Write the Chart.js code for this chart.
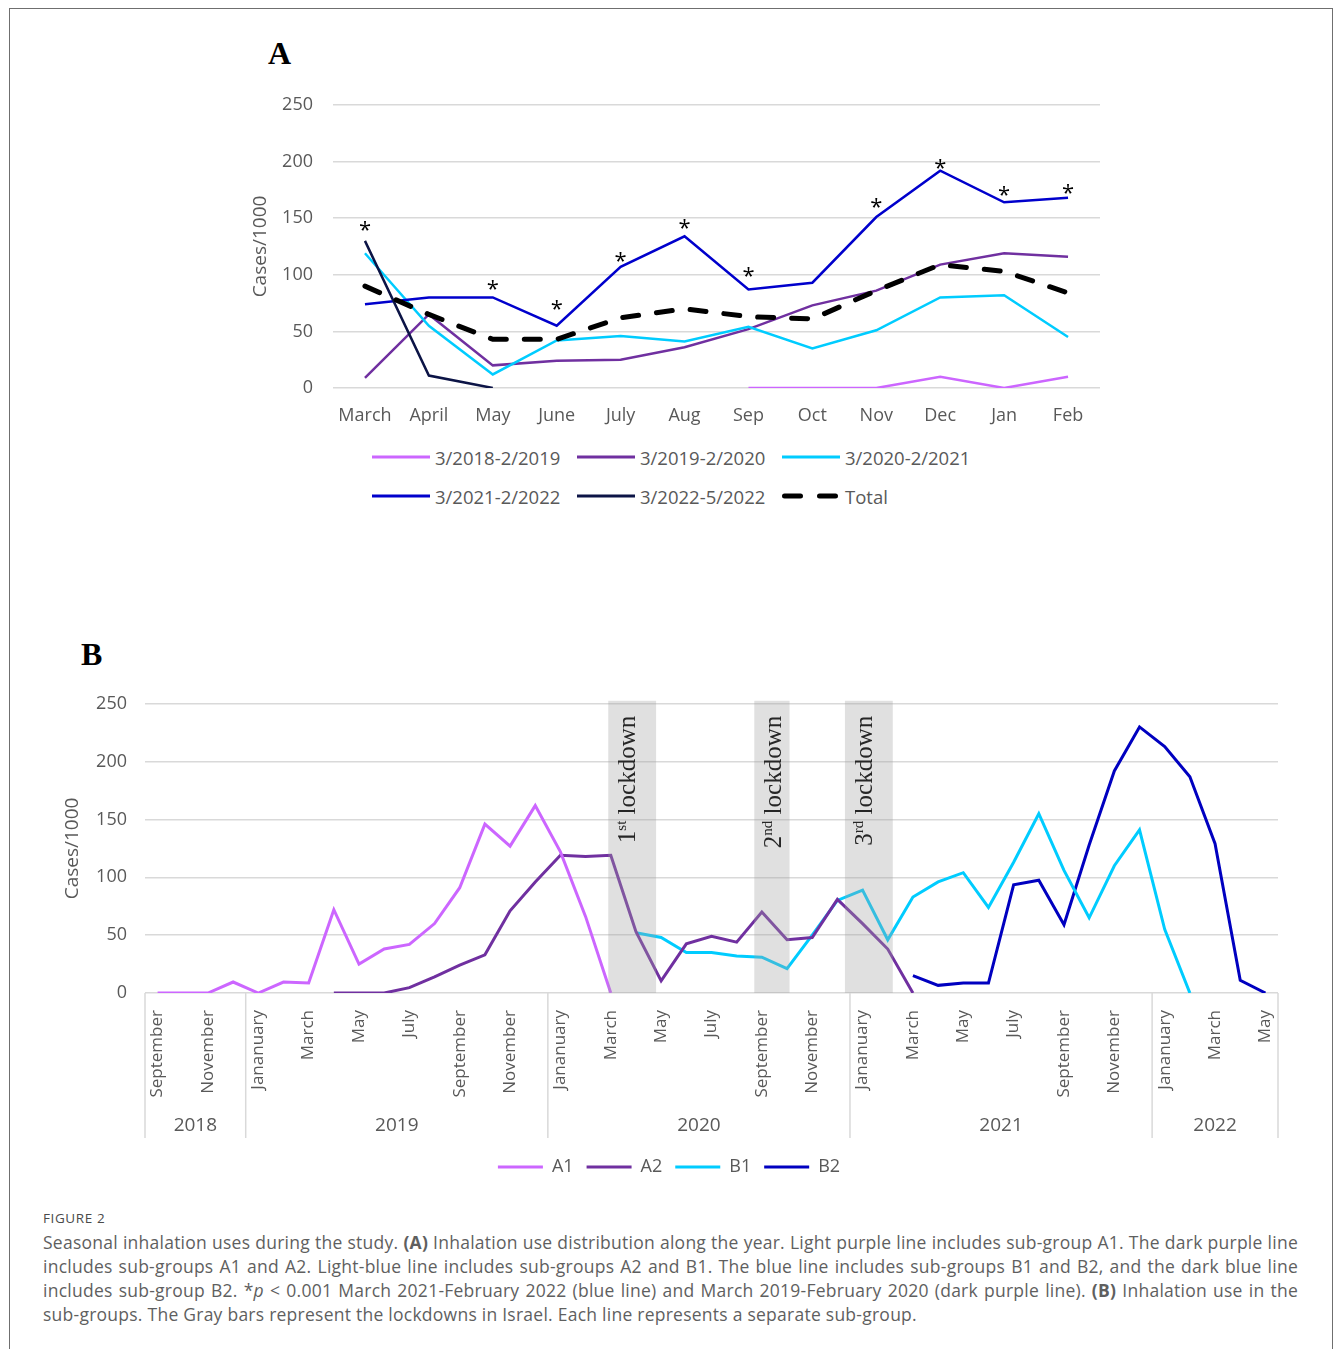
<!DOCTYPE html>
<html>
<head>
<meta charset="utf-8">
<script src="https://cdn.jsdelivr.net/npm/chart.js@4.4.0/dist/chart.umd.min.js"></script>
<style>
  body { margin: 0; background: #fff; font-family: "Open Sans", sans-serif; }
  #page { position: relative; width: 1333px; height: 1349px; overflow: hidden; }
  #frame { position: absolute; left: 9px; top: 8px; width: 1324px; height: 1400px; border: 1px solid #6f6f6f; box-sizing: border-box; }
  .panel { position: absolute; font-family: "Liberation Serif", "Times New Roman", serif; font-weight: bold; font-size: 32px; line-height: 32px; color: #000; }
  #wrapA { position: absolute; left: 240px; top: 70px; }
  #wrapB { position: absolute; left: 40px; top: 675px; }
  #legendA { position: absolute; left: 372px; top: 444px; width: 640px; height: 80px; }
  .lg-item { position: absolute; display: flex; align-items: center; height: 26px; font-size: 18.5px; color: #595959; white-space: nowrap; }
  .lg-item svg { margin-right: 5px; }
  #caption { position: absolute; left: 43px; top: 1206px; width: 1255px; line-height: 24px; color: #5f5f5f; font-size: 17.5px; letter-spacing: 0.25px; }
  #caption .fig { font-size: 13.5px; letter-spacing: 0.6px; color: #4a4a4a; }
  #caption .ln { text-align: justify; text-align-last: justify; white-space: nowrap; }
  #caption .last { text-align: left; }
</style>
</head>
<body>
<div id="page">
  <div id="frame"></div>
  <div class="panel" style="left:268px; top:37px;">A</div>
  <div class="panel" style="left:81px; top:638px;">B</div>

  <div id="wrapA"><canvas id="chartA" width="880" height="370"></canvas></div>
  <div id="legendA"></div>

  <div id="wrapB"><canvas id="chartB" width="1270" height="520"></canvas></div>

  <div id="caption">
    <div class="fig">FIGURE 2</div>
    <div class="ln">Seasonal inhalation uses during the study. <b>(A)</b> Inhalation use distribution along the year. Light purple line includes sub-group A1. The dark purple line</div>
    <div class="ln">includes sub-groups A1 and A2. Light-blue line includes sub-groups A2 and B1. The blue line includes sub-groups B1 and B2, and the dark blue line</div>
    <div class="ln">includes sub-group B2. *<i>p</i> &lt; 0.001 March 2021-February 2022 (blue line) and March 2019-February 2020 (dark purple line). <b>(B)</b> Inhalation use in the</div>
    <div class="last">sub-groups. The Gray bars represent the lockdowns in Israel. Each line represents a separate sub-group.</div>
  </div>
</div>

<script>
Chart.defaults.font.family = '"Open Sans", sans-serif';
Chart.defaults.color = '#595959';

// ---- panel A: seasonal profile, March..February ----
const monthsA = ['March', 'April', 'May', 'June', 'July', 'Aug', 'Sep', 'Oct', 'Nov', 'Dec', 'Jan', 'Feb'];
const season1819 = [null, null, null, null, null, null, 0, 0, 0, 10, 0, 10];
const season1920 = [9, 65, 20, 24, 25, 36, 52, 73, 86, 109, 119, 116];
const season2021 = [119, 55, 12, 42, 46, 41, 54, 35, 51, 80, 82, 45];
const season2122 = [74, 80, 80, 55, 107, 134, 87, 93, 151, 192, 164, 168];
const season22 = [130, 11, 0, null, null, null, null, null, null, null, null, null];
const totalA = [90, 65, 43, 43, 62, 70, 63, 61, 86, 109, 103, 84];
// where the significance asterisks sit (value units)
const starsA = [144, null, 92, 74, 117, 146, 103, null, 164, 199, 175, 177];

// ---- panel B: monthly series Sep 2018 .. May 2022 ----
const monthCycle = ['Jananuary', 'February', 'March', 'April', 'May', 'June', 'July', 'August', 'September', 'October', 'November', 'December'];
const monthsB = [];
const yearOfMonth = [];
for (let i = 0; i < 45; i++) {
  monthsB.push(monthCycle[(8 + i) % 12]);
  yearOfMonth.push(String(2018 + Math.floor((8 + i) / 12)));
}

const groupA1 = [0, 0, 0, 9.5, 0, 9.5, 8.6, 72, 25, 38, 42, 60, 91, 146, 127, 162, 122, 66, 0,
  null, null, null, null, null, null, null, null, null, null, null, null, null, null, null, null,
  null, null, null, null, null, null, null, null, null, null];
const groupA2 = [null, null, null, null, null, null, null, 0, 0, 0, 4.6, 14, 24, 33, 71, 96, 119, 118, 119,
  53, 10.5, 42.5, 49, 44, 70, 46, 48, 81, 60, 38, 0,
  null, null, null, null, null, null, null, null, null, null, null, null, null, null];
const groupB1 = [null, null, null, null, null, null, null, null, null, null, null, null, null, null, null,
  null, null, null, null, 52, 48, 35, 35, 32, 31, 21, 50, 80, 89, 46, 83, 96, 104, 74, 113, 155, 106,
  65, 110, 141, 55, 0, null, null, null];
const groupB2 = [null, null, null, null, null, null, null, null, null, null, null, null, null, null, null,
  null, null, null, null, null, null, null, null, null, null, null, null, null, null, null,
  15, 6.6, 8.6, 8.6, 93.5, 97.5, 59, 128, 192, 230, 213, 187, 129, 11, 0];

// lockdown periods on the month index axis
const lockdownOrdinals = [['1', 'st'], ['2', 'nd'], ['3', 'rd']];
const lockdownFrom = [17.9, 23.7, 27.3];
const lockdownTo = [19.8, 25.1, 29.2];

const starPlugin = {
  id: 'stars',
  afterDatasetsDraw(chart) {
    const {ctx, scales: {x, y}} = chart;
    ctx.save();
    ctx.font = '22px "Open Sans"';
    ctx.fillStyle = '#000';
    ctx.textAlign = 'center';
    ctx.textBaseline = 'alphabetic';
    starsA.forEach((v, i) => {
      if (v === null) return;
      ctx.fillText('*', x.getPixelForValue(i), y.getPixelForValue(v) + 12);
    });
    ctx.restore();
  }
};

const chartA = new Chart(document.getElementById('chartA'), {
  type: 'line',
  data: {
    labels: monthsA,
    datasets: [
      { label: '3/2018-2/2019', data: season1819, borderColor: '#cc66ff', borderWidth: 2.5, order: 5 },
      { label: '3/2019-2/2020', data: season1920, borderColor: '#7030a0', borderWidth: 2.5, order: 4 },
      { label: '3/2020-2/2021', data: season2021, borderColor: '#00ccff', borderWidth: 2.5, order: 3 },
      { label: '3/2021-2/2022', data: season2122, borderColor: '#0000cc', borderWidth: 2.5, order: 2 },
      { label: '3/2022-5/2022', data: season22, borderColor: '#0c1446', borderWidth: 2.5, order: 1 },
      { label: 'Total', data: totalA, borderColor: '#000', borderWidth: 5, borderDash: [16, 18], borderCapStyle: 'round', order: 0 }
    ]
  },
  options: {
    responsive: false,
    animation: false,
    elements: { point: { radius: 0 }, line: { tension: 0 } },
    layout: { padding: { top: 35, right: 20, bottom: 0, left: 0 } },
    plugins: { legend: { display: false }, tooltip: { enabled: false } },
    scales: {
      x: {
        offset: true,
        grid: { display: false },
        border: { display: false },
        ticks: { font: { size: 18 }, padding: 9, maxRotation: 0 },
        afterFit(s) { s.height = 52; }
      },
      y: {
        min: 0,
        max: 250,
        ticks: { stepSize: 50, font: { size: 18 }, padding: 20 },
        grid: { color: '#d9d9d9', lineWidth: 1.5, drawTicks: false },
        border: { display: false },
        title: { display: true, text: 'Cases/1000', font: { size: 19 }, padding: { top: 9 } },
        afterFit(s) { s.width = 93; }
      }
    }
  },
  plugins: [starPlugin]
});

// legend for panel A, three per row like the original
const legendA = document.getElementById('legendA');
chartA.data.datasets.forEach((ds, i) => {
  const item = document.createElement('div');
  item.className = 'lg-item';
  item.style.left = (i % 3) * 205 + 'px';
  item.style.top = Math.floor(i / 3) * 39 + 'px';
  const dashed = ds.borderDash ? ' stroke-dasharray="16 19" stroke-linecap="round"' : '';
  const w = ds.borderDash ? 5 : 3;
  item.innerHTML = '<svg width="58" height="8"><line x1="' + (ds.borderDash ? 2.5 : 0) + '" y1="4" x2="58" y2="4" stroke="' +
    ds.borderColor + '" stroke-width="' + w + '"' + dashed + '/></svg><span>' + ds.label + '</span>';
  legendA.appendChild(item);
});

// ---- panel B plugins ----
const lockdownPlugin = {
  id: 'lockdowns',
  afterDatasetsDraw(chart) {
    const {ctx, chartArea, scales: {x}} = chart;
    lockdownFrom.forEach((from, i) => {
      const x0 = x.getPixelForValue(from);
      const x1 = x.getPixelForValue(lockdownTo[i]);
      ctx.save();
      ctx.fillStyle = 'rgba(160,160,160,0.33)';
      ctx.fillRect(x0, chartArea.top - 3, x1 - x0, chartArea.bottom - chartArea.top + 3);

      const [num, sup] = lockdownOrdinals[i];
      const big = '25px "Liberation Serif", "Times New Roman", serif';
      const small = '15px "Liberation Serif", "Times New Roman", serif';
      ctx.translate(x0 + 27, chartArea.top + 12);
      ctx.rotate(-Math.PI / 2);
      ctx.fillStyle = '#262626';
      ctx.textBaseline = 'alphabetic';
      ctx.textAlign = 'left';
      ctx.font = big;
      const wNum = ctx.measureText(num).width;
      const wRest = ctx.measureText(' lockdown').width;
      ctx.font = small;
      const wSup = ctx.measureText(sup).width;
      let cx = -(wNum + wSup + wRest);
      ctx.font = big;
      ctx.fillText(num, cx, 0);
      cx += wNum;
      ctx.font = small;
      ctx.fillText(sup, cx, -9);
      cx += wSup;
      ctx.font = big;
      ctx.fillText(' lockdown', cx, 0);
      ctx.restore();
    });
  }
};

const yearAxisPlugin = {
  id: 'yearAxis',
  afterDraw(chart) {
    const {ctx, chartArea, scales: {x}} = chart;
    const top = chartArea.bottom;
    const bottom = chartArea.bottom + 145;
    ctx.save();
    ctx.strokeStyle = '#d9d9d9';
    ctx.lineWidth = 1.5;
    ctx.fillStyle = '#595959';
    ctx.font = '19px "Open Sans"';
    ctx.textAlign = 'center';
    ctx.textBaseline = 'middle';
    let start = 0;
    for (let i = 1; i <= monthsB.length; i++) {
      if (i === monthsB.length || yearOfMonth[i] !== yearOfMonth[i - 1]) {
        const xl = x.getPixelForValue(start - 0.5);
        const xr = x.getPixelForValue(i - 0.5);
        ctx.beginPath();
        ctx.moveTo(xl, top);
        ctx.lineTo(xl, bottom);
        ctx.stroke();
        if (i === monthsB.length) {
          ctx.beginPath();
          ctx.moveTo(xr, top);
          ctx.lineTo(xr, bottom);
          ctx.stroke();
        }
        ctx.fillText(yearOfMonth[start], (xl + xr) / 2, top + 133);
        start = i;
      }
    }
    ctx.restore();
  }
};

new Chart(document.getElementById('chartB'), {
  type: 'line',
  data: {
    labels: monthsB,
    datasets: [
      { label: 'A1', data: groupA1, borderColor: '#cc66ff', borderWidth: 3 },
      { label: 'A2', data: groupA2, borderColor: '#7030a0', borderWidth: 3 },
      { label: 'B1', data: groupB1, borderColor: '#00ccff', borderWidth: 3 },
      { label: 'B2', data: groupB2, borderColor: '#0000c0', borderWidth: 3 }
    ]
  },
  options: {
    responsive: false,
    animation: false,
    elements: { point: { radius: 0 }, line: { tension: 0 } },
    layout: { padding: { top: 17, right: 32, bottom: 9, left: 20 } },
    plugins: {
      tooltip: { enabled: false },
      legend: {
        position: 'bottom',
        labels: {
          usePointStyle: true,
          pointStyle: 'line',
          pointStyleWidth: 45,
          font: { size: 18 },
          padding: 13,
          color: '#595959'
        }
      }
    },
    scales: {
      x: {
        offset: true,
        grid: { display: false },
        border: { display: false },
        ticks: {
          autoSkip: false,
          minRotation: 90,
          maxRotation: 90,
          padding: 9,
          font: { size: 17 },
          callback: (v, i) => (i % 2 === 0 ? monthsB[i] : '')
        },
        afterFit(s) { s.height = 152; }
      },
      y: {
        min: 0,
        max: 250,
        ticks: { stepSize: 50, font: { size: 18 }, padding: 18 },
        grid: { color: '#d9d9d9', lineWidth: 1.5, drawTicks: false },
        border: { display: false },
        title: { display: true, text: 'Cases/1000', font: { size: 19 }, padding: { top: 1 } },
        afterFit(s) { s.width = 85; }
      }
    }
  },
  plugins: [lockdownPlugin, yearAxisPlugin]
});
</script>
</body>
</html>
